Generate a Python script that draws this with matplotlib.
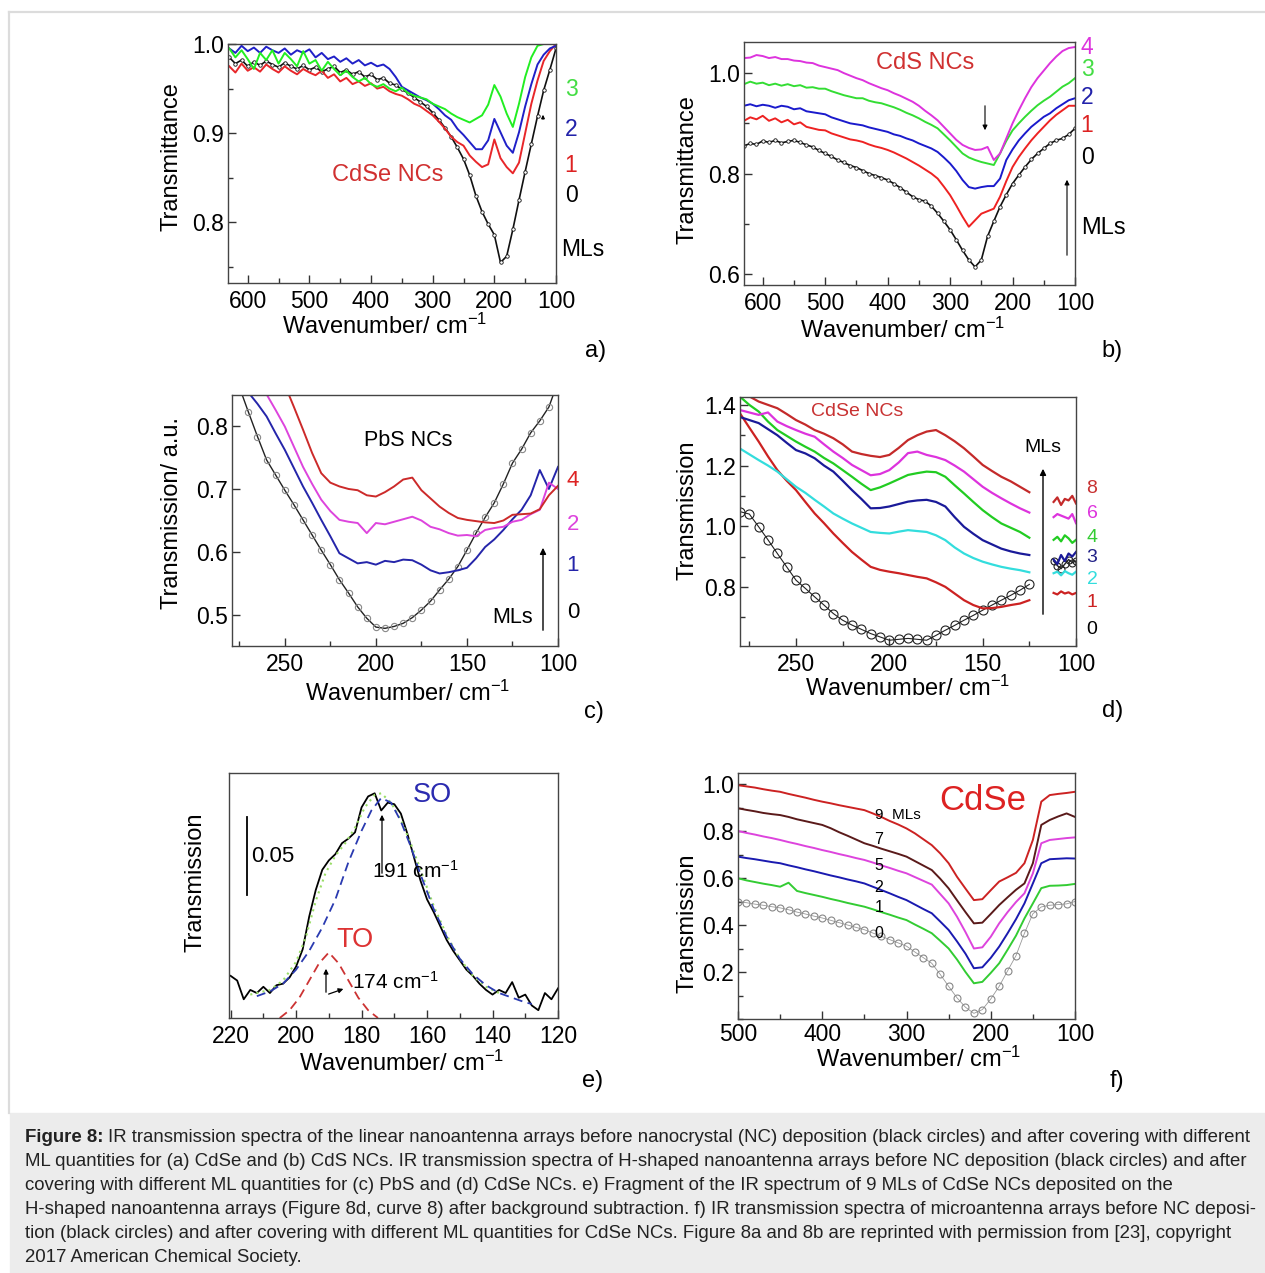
import matplotlib
matplotlib.use("Agg")
import matplotlib.pyplot as plt
from matplotlib.ticker import MultipleLocator, FixedLocator
from matplotlib.lines import Line2D
from matplotlib.patches import Rectangle

W, H = 1265, 1273
plt.rcParams["font.family"] = ["Liberation Sans", "DejaVu Sans"]
plt.rcParams["mathtext.fontset"] = "custom"
plt.rcParams["mathtext.rm"] = "Liberation Sans"
plt.rcParams["mathtext.it"] = "Liberation Sans:italic"
plt.rcParams["mathtext.bf"] = "Liberation Sans:bold"

XLAB = "Wavenumber/ cm$^{-1}$"

# ---- a) CdSe NCs on linear nanoantennas
a_x = list(range(630, 99, -10))
a_ml0 = [.985, .978, .982, .975, .980, .976, .981, .977, .974, .979,
         .975, .972, .976, .971, .974, .969, .972, .975, .968, .971,
         .966, .969, .963, .966, .960, .962, .956, .954, .949, .945,
         .940, .935, .930, .923, .915, .906, .896, .884, .871, .853,
         .830, .812, .798, .786, .755, .762, .792, .825, .857, .888,
         .919, .948, .971, .995]
a_ml1 = [.975, .968, .978, .970, .974, .969, .977, .972, .968, .975,
         .970, .966, .972, .968, .965, .970, .962, .966, .958, .962,
         .955, .958, .953, .956, .950, .952, .947, .944, .942, .938,
         .933, .930, .925, .920, .913, .905, .896, .890, .886, .875,
         .868, .862, .865, .893, .872, .862, .855, .867, .900, .933,
         .959, .981, .992, 1.0]
a_ml2 = [.995, .990, .998, .992, .996, .990, .997, .993, .990, .995,
         .988, .993, .990, .994, .985, .990, .983, .986, .980, .984,
         .978, .982, .976, .979, .975, .977, .972, .963, .952, .948,
         .944, .940, .937, .933, .927, .920, .915, .905, .898, .890,
         .882, .882, .892, .916, .901, .886, .878, .901, .930, .955,
         .977, .988, .995, .998]
a_ml3 = [.995, .985, .993, .983, .972, .990, .982, .993, .978, .990,
         .983, .975, .992, .978, .982, .970, .980, .972, .965, .970,
         .963, .958, .962, .955, .952, .955, .950, .947, .951, .945,
         .942, .940, .938, .933, .930, .927, .922, .918, .915, .912,
         .916, .920, .932, .954, .941, .922, .907, .933, .963, .985,
         .998, 1.0, 1.0, 1.0]

# ---- b) CdS NCs on linear nanoantennas
b_x = list(range(630, 99, -10))
b_ml0 = [.855, .860, .858, .865, .862, .866, .861, .864, .866, .862,
         .857, .853, .846, .840, .834, .827, .822, .816, .812, .806,
         .800, .796, .792, .787, .780, .772, .763, .754, .748, .745,
         .735, .721, .705, .688, .668, .647, .628, .614, .628, .675,
         .705, .734, .758, .780, .797, .813, .828, .840, .850, .860,
         .866, .870, .878, .890]
b_ml1 = [.905, .912, .908, .915, .905, .910, .902, .907, .898, .902,
         .893, .890, .887, .886, .880, .876, .872, .868, .866, .863,
         .858, .854, .851, .847, .842, .836, .830, .823, .816, .808,
         .800, .790, .774, .757, .736, .714, .694, .707, .720, .725,
         .730, .754, .785, .813, .833, .850, .866, .880, .893, .906,
         .917, .926, .935, .935]
b_ml2 = [.935, .938, .934, .937, .935, .931, .935, .933, .928, .930,
         .924, .922, .920, .918, .912, .908, .904, .900, .898, .896,
         .892, .889, .886, .883, .878, .875, .870, .866, .860, .855,
         .850, .843, .832, .820, .805, .787, .773, .770, .773, .775,
         .775, .790, .827, .848, .866, .880, .893, .903, .913, .920,
         .930, .938, .946, .950]
b_ml3 = [.978, .983, .979, .981, .976, .979, .975, .978, .974, .976,
         .971, .972, .969, .969, .964, .960, .956, .953, .950, .950,
         .945, .942, .940, .936, .932, .927, .921, .916, .910, .903,
         .897, .890, .878, .866, .853, .840, .832, .827, .823, .820,
         .817, .840, .865, .886, .900, .913, .925, .936, .945, .953,
         .963, .973, .980, .990]
b_ml4 = [1.030, 1.031, 1.036, 1.034, 1.030, 1.032, 1.028, 1.028, 1.025, 1.024,
         1.021, 1.020, 1.015, 1.012, 1.009, 1.006, 1.000, .995, .990, .986,
         .980, .975, .970, .966, .960, .955, .949, .943, .935, .925,
         .916, .906, .893, .880, .867, .857, .851, .847, .848, .853,
         .827, .840, .870, .900, .926, .950, .972, .990, 1.005, 1.020,
         1.033, 1.044, 1.050, 1.052]

# ---- c) PbS NCs on H-shaped nanoantennas
c_x = list(range(280, 99, -5))
c_ml0 = [.900, .862, .822, .783, .746, .722, .698, .675, .651, .627,
         .603, .580, .556, .535, .513, .495, .481, .479, .482, .487,
         .496, .508, .522, .540, .557, .577, .603, .630, .655, .678,
         .708, .741, .763, .789, .808, .830, .870]
c_ml1 = [.930, .890, .853, .835, .815, .788, .762, .733, .704, .678,
         .651, .625, .598, .590, .582, .584, .580, .586, .584, .588,
         .587, .580, .571, .566, .568, .571, .575, .590, .608, .620,
         .635, .652, .667, .690, .730, .700, .735]
c_ml2 = [1.00, .950, .910, .875, .850, .825, .799, .767, .735, .708,
         .683, .665, .651, .648, .646, .630, .646, .644, .648, .652,
         .656, .650, .640, .636, .630, .626, .627, .625, .635, .638,
         .640, .648, .651, .660, .667, .710, .700]
c_ml4 = [1.10, 1.05, 1.00, .960, .920, .890, .865, .830, .794, .757,
         .725, .710, .704, .700, .698, .690, .688, .695, .704, .715,
         .718, .698, .685, .672, .662, .654, .651, .649, .647, .646,
         .650, .659, .660, .661, .668, .690, .705]

# ---- d) CdSe NCs on H-shaped nanoantennas
d_x = list(range(280, 124, -5))
d_xs = [112, 110, 108, 106, 104, 102, 100]
d_ml8 = [1.440, 1.428, 1.411, 1.400, 1.389, 1.370, 1.350, 1.335, 1.317, 1.305,
         1.290, 1.270, 1.246, 1.238, 1.232, 1.228, 1.235, 1.258, 1.284, 1.300,
         1.312, 1.317, 1.300, 1.280, 1.257, 1.230, 1.202, 1.182, 1.163, 1.148,
         1.130, 1.112]
d_ml6 = [1.383, 1.375, 1.367, 1.375, 1.345, 1.330, 1.317, 1.305, 1.295, 1.270,
         1.246, 1.225, 1.202, 1.185, 1.168, 1.172, 1.185, 1.210, 1.241, 1.246,
         1.235, 1.228, 1.218, 1.200, 1.180, 1.155, 1.130, 1.110, 1.092, 1.075,
         1.059, 1.045]
d_ml4 = [1.427, 1.400, 1.378, 1.345, 1.317, 1.298, 1.279, 1.262, 1.246, 1.225,
         1.207, 1.185, 1.163, 1.140, 1.119, 1.128, 1.141, 1.155, 1.169, 1.175,
         1.180, 1.178, 1.163, 1.135, 1.108, 1.080, 1.053, 1.030, 1.009, .995,
         .981, .962]
d_ml3 = [1.360, 1.350, 1.340, 1.320, 1.300, 1.275, 1.251, 1.240, 1.224, 1.200,
         1.180, 1.150, 1.119, 1.090, 1.059, 1.060, 1.065, 1.073, 1.081, 1.085,
         1.087, 1.080, 1.065, 1.030, .998, .975, .954, .940, .926, .917,
         .910, .905]
d_ml2 = [1.256, 1.237, 1.218, 1.200, 1.180, 1.155, 1.130, 1.110, 1.087, 1.065,
         1.042, 1.025, 1.009, .995, .981, .978, .976, .982, .987, .984,
         .981, .970, .954, .930, .910, .895, .883, .874, .866, .860,
         .855, .848]
d_ml1 = [1.372, 1.325, 1.279, 1.230, 1.185, 1.150, 1.119, 1.080, 1.042, 1.010,
         .976, .945, .915, .890, .866, .856, .850, .845, .839, .833,
         .828, .815, .800, .778, .756, .740, .729, .730, .734, .740,
         .745, .756]
d_ml0 = [1.048, 1.040, .998, .955, .910, .866, .822, .795, .767, .740,
         .712, .690, .674, .660, .646, .635, .624, .627, .630, .627,
         .624, .640, .657, .673, .690, .706, .723, .740, .756, .772,
         .789, .808]
d_s8 = [1.080, 1.095, 1.070, 1.090, 1.085, 1.100, 1.075]
d_s6 = [1.030, 1.040, 1.035, 1.030, 1.025, 1.040, 1.010]
d_s4 = [.955, .965, .950, .970, .960, .945, .955]
d_s3 = [.890, .875, .905, .885, .910, .900, .915]
d_s2 = [.845, .850, .838, .852, .845, .840, .850]
d_s1 = [.780, .775, .785, .778, .782, .775, .780]
d_s0 = [.885, .870, .860, .875, .890, .880, .885]

# ---- e) fragment of 9 ML spectrum, after background subtraction
e_x = list(range(220, 119, -2))
e_data = [.027, .024, .012, .018, .016, .020, .016, .021, .022, .026,
          .033, .044, .065, .082, .095, .101, .105, .112, .115, .119,
          .135, .142, .144, .133, .138, .137, .131, .118, .103, .088,
          .076, .068, .059, .050, .043, .037, .031, .027, .022, .018,
          .015, .018, .016, .023, .013, .015, .008, .005, .016, .012,
          .019]
e_so_x = [212, 208, 204, 200, 196, 192, 188, 184, 180, 177, 174, 171,
          168, 165, 162, 158, 154, 150, 146, 142, 138, 134, 130, 128]
e_so = [.014, .017, .022, .031, .043, .058, .076, .100, .120, .133, .141, .138,
        .126, .110, .092, .070, .052, .038, .028, .021, .016, .013, .010, .009]
e_to_x = [205, 202, 199, 196, 193, 190, 187, 184, 181, 178, 175]
e_to = [.0, .005, .013, .024, .035, .042, .035, .024, .013, .005, .0]
e_fit_x = [214, 208, 204, 200, 197, 194, 191, 188, 185, 182, 179, 176,
           174, 171, 168, 165, 162, 158, 154, 150, 146, 142, 138]
e_fit = [.015, .018, .024, .036, .052, .075, .093, .104, .112, .122, .135, .143,
         .144, .138, .127, .112, .095, .072, .053, .038, .027, .020, .016]
e_bar_x = 215
e_bar = [.079, .129]

# ---- f) CdSe NCs on microantennas
f_x = list(range(500, 99, -10))
f_ml9 = [.995, .990, .985, .978, .972, .967, .958, .950, .942, .933,
         .925, .918, .910, .903, .896, .889, .875, .860, .843, .828,
         .811, .790, .765, .740, .705, .663, .605, .555, .506, .510,
         .548, .585, .603, .622, .663, .762, .925, .953, .958, .962,
         .967]
f_ml7 = [.897, .890, .884, .877, .872, .868, .860, .850, .842, .834,
         .826, .812, .795, .780, .764, .748, .737, .725, .714, .703,
         .691, .672, .653, .634, .597, .556, .505, .455, .407, .410,
         .447, .485, .518, .550, .577, .663, .826, .847, .862, .875,
         .860]
f_ml5 = [.800, .792, .785, .777, .770, .762, .753, .745, .736, .728,
         .719, .711, .702, .694, .685, .677, .666, .654, .643, .631,
         .620, .604, .588, .572, .532, .492, .435, .370, .300, .305,
         .350, .407, .455, .498, .535, .620, .748, .762, .766, .770,
         .773]
f_ml2 = [.691, .685, .680, .674, .668, .663, .654, .646, .637, .629,
         .620, .611, .603, .594, .586, .577, .563, .549, .535, .520,
         .506, .487, .468, .450, .415, .379, .330, .278, .216, .220,
         .260, .308, .365, .425, .492, .577, .663, .680, .682, .684,
         .683]
f_ml1 = [.599, .590, .583, .576, .570, .563, .580, .545, .536, .528,
         .520, .511, .503, .494, .486, .478, .467, .455, .444, .432,
         .421, .402, .384, .365, .333, .300, .253, .200, .152, .158,
         .196, .237, .295, .355, .428, .492, .557, .567, .568, .570,
         .575]
f_ml0 = [.500, .495, .489, .484, .478, .473, .465, .455, .447, .438,
         .430, .420, .410, .400, .390, .380, .366, .352, .338, .324,
         .310, .285, .261, .237, .190, .139, .090, .050, .024, .040,
         .085, .139, .205, .270, .365, .448, .477, .484, .487, .490,
         .500]
f_yticks = [0.2, 0.4, 0.6, 0.8, 1.0]

CAPTION = [
    "IR transmission spectra of the linear nanoantenna arrays before nanocrystal (NC) deposition (black circles) and after covering with different",
    "ML quantities for (a) CdSe and (b) CdS NCs. IR transmission spectra of H-shaped nanoantenna arrays before NC deposition (black circles) and after",
    "covering with different ML quantities for (c) PbS and (d) CdSe NCs. e) Fragment of the IR spectrum of 9 MLs of CdSe NCs deposited on the",
    "H-shaped nanoantenna arrays (Figure 8d, curve 8) after background subtraction. f) IR transmission spectra of microantenna arrays before NC deposi-",
    "tion (black circles) and after covering with different ML quantities for CdSe NCs. Figure 8a and 8b are reprinted with permission from [23], copyright",
    "2017 American Chemical Society.",
]


def box(l, t, r, b):
    return [l / W, 1 - b / H, (r - l) / W, (b - t) / H]


def at(x, y):
    return (x / W, 1 - y / H)


def txt(x, y, s, size, color="black", **kw):
    fig.text(x / W, 1 - y / H, s, fontsize=size, color=color,
             ha=kw.pop("ha", "center"), va=kw.pop("va", "center"), **kw)


def arrow(x1, y1, x2, y2, lw=1.0, ms=9):
    fig.add_artist(matplotlib.patches.FancyArrowPatch(
        at(x1, y1), at(x2, y2), transform=fig.transFigure,
        arrowstyle="-|>", mutation_scale=ms, color="black", lw=lw))


def style(ax, xlim, ylim, xmaj, xmin, ymaj=None, ymin=None):
    ax.set_xlim(*xlim)
    ax.set_ylim(*ylim)
    ax.xaxis.set_major_locator(MultipleLocator(xmaj))
    ax.xaxis.set_minor_locator(MultipleLocator(xmin))
    if ymaj:
        ax.yaxis.set_major_locator(MultipleLocator(ymaj))
        ax.yaxis.set_minor_locator(MultipleLocator(ymin))
    else:
        ax.set_yticks([])
    ax.tick_params(which="both", direction="in", labelsize=16.5,
                   color="#333333", top=False, right=False)
    ax.tick_params(which="major", length=6, width=1, pad=5)
    ax.tick_params(which="minor", length=3.5, width=1)
    ax.tick_params(axis="y", pad=3)
    for s in ax.spines.values():
        s.set_color("#444444")
        s.set_linewidth(1)


fig = plt.figure(figsize=(W / 100, H / 100), dpi=100)

# frame and caption background
fig.add_artist(Line2D([9 / W, 1], [1 - 12 / H, 1 - 12 / H], color="#dcdcdc", lw=1.6,
                      transform=fig.transFigure))
fig.add_artist(Line2D([9 / W, 9 / W], [1 - 12 / H, 1 - 1113 / H], color="#dcdcdc", lw=1.6,
                      transform=fig.transFigure))
fig.add_artist(Rectangle((10 / W, 0), 1 - 10 / W, 160 / H, color="#ececec",
                         transform=fig.transFigure, zorder=0))

LW = 1.4

# a)
axa = fig.add_axes(box(228, 44, 556, 283))
axa.plot(a_x, a_ml0, color="#111111", lw=1.2, marker="o", ms=2.5, mfc="white", mec="#111111", mew=0.6)
axa.plot(a_x, a_ml1, color="#e8262a", lw=LW)
axa.plot(a_x, a_ml2, color="#2020c8", lw=LW)
axa.plot(a_x, a_ml3, color="#22ee22", lw=LW)
style(axa, (632, 100), (0.732, 1.0), 100, 50, 0.1, 0.05)
txt(172, 157, "Transmittance", 17, rotation=90)
txt(385, 326, XLAB, 17)
txt(388, 175, "CdSe NCs", 17, "#d03030")
txt(571, 90, "3", 16.5, "#44dd44")
txt(571, 130, "2", 16.5, "#2222aa")
txt(571, 165, "1", 16.5, "#dd2222")
txt(571, 196, "0", 16.5)
txt(583, 250, "MLs", 16.5)
arrow(543, 122, 543, 112, lw=0.8, ms=5)
txt(596, 351, "a)", 17)

# b)
axb = fig.add_axes(box(744, 42, 1075, 285))
axb.plot(b_x, b_ml0, color="#111111", lw=1.2, marker="o", ms=2.5, mfc="white", mec="#111111", mew=0.6)
axb.plot(b_x, b_ml1, color="#ee2222", lw=LW)
axb.plot(b_x, b_ml2, color="#1a1acc", lw=LW)
axb.plot(b_x, b_ml3, color="#33dd33", lw=LW)
axb.plot(b_x, b_ml4, color="#dd33dd", lw=LW)
style(axb, (630, 100), (0.578, 1.062), 100, 50, 0.2, 0.1)
txt(687, 170, "Transmittance", 17, rotation=90)
txt(903, 330, XLAB, 17)
txt(925, 63, "CdS NCs", 17, "#d03030")
arrow(985, 103, 985, 133, lw=0.8, ms=7)
arrow(1067, 258, 1067, 177, lw=0.8, ms=7)
txt(1087, 47, "4", 16.5, "#dd33dd")
txt(1087, 70, "3", 16.5, "#44dd44")
txt(1087, 97, "2", 16.5, "#2222aa")
txt(1087, 126, "1", 16.5, "#dd2222")
txt(1087, 157, "0", 16.5)
txt(1103, 228, "MLs", 17)
txt(1112, 351, "b)", 17)

# c)
axc = fig.add_axes(box(232, 395, 558, 646))
axc.plot(c_x, c_ml0, color="#222222", lw=1.0, marker="o", ms=4.5, mfc="none", mec="#888888", mew=0.8)
axc.plot(c_x, c_ml1, color="#2525aa", lw=LW)
axc.plot(c_x, c_ml2, color="#dd44dd", lw=LW)
axc.plot(c_x, c_ml4, color="#cc2a2a", lw=LW)
style(axc, (279, 100), (0.451, 0.849), 50, 25, 0.1, 0.1)
txt(172, 513, "Transmission/ a.u.", 17, rotation=90)
txt(408, 693, XLAB, 17)
txt(408, 440, "PbS NCs", 15.5)
txt(573, 480, "4", 16, "#dd2222")
txt(573, 525, "2", 16, "#dd44dd")
txt(573, 565, "1", 16, "#2525aa")
txt(573, 613, "0", 16)
txt(513, 617, "MLs", 15.5)
arrow(543, 633, 543, 545, lw=1.0, ms=9)
txt(594, 712, "c)", 17)

# d)
axd = fig.add_axes(box(740, 397, 1076, 646))
axd.plot(d_x, d_ml0, color="#222222", lw=0.8, marker="o", ms=6.5, mfc="none", mec="#222222", mew=0.8)
axd.plot(d_xs, d_s0, color="#222222", lw=1.0, marker="o", ms=5, mfc="none", mec="#222222", mew=0.8)
d_series = [(d_ml1, d_s1, "#cc2222"), (d_ml2, d_s2, "#33dddd"), (d_ml3, d_s3, "#1a1a99"),
            (d_ml4, d_s4, "#22cc22"), (d_ml6, d_s6, "#dd33dd"), (d_ml8, d_s8, "#c42a2a")]
for main, stub, col in d_series:
    axd.plot(d_x, main, color=col, lw=1.6)
    axd.plot(d_xs, stub, color=col, lw=1.6)
style(axd, (280, 100), (0.605, 1.426), 50, 25, 0.2, 0.1)
txt(687, 510, "Transmission", 17, rotation=90)
txt(908, 688, XLAB, 17)
txt(857, 412, "CdSe NCs", 14, "#c83232")
txt(1043, 448, "MLs", 14)
arrow(1043, 617, 1043, 466, lw=1.0, ms=9)
for lab, yy, col in [("8", 488, "#c83232"), ("6", 513, "#dd33dd"), ("4", 537, "#33cc33"),
                     ("3", 558, "#222288"), ("2", 580, "#33dddd"), ("1", 603, "#cc2222"),
                     ("0", 630, "black")]:
    txt(1092, yy, lab, 14, col)
txt(1113, 711, "d)", 17)

# e)
axe = fig.add_axes(box(229, 773, 558, 1018))
axe.plot(e_x, e_data, color="black", lw=1.3)
axe.plot(e_fit_x, e_fit, color="#99dd66", lw=1.5, ls=(0, (1, 2)))
axe.plot(e_so_x, e_so, color="#2a3ab0", lw=1.3, ls=(0, (5, 3)))
axe.plot(e_to_x, e_to, color="#cc3333", lw=1.3, ls=(0, (5, 3)))
axe.plot([e_bar_x, e_bar_x], e_bar, color="black", lw=1.3)
style(axe, (220.5, 120), (0, 0.157), 20, 10)
txt(195, 882, "Transmission", 17, rotation=90)
txt(402, 1063, XLAB, 17)
txt(273, 857, "0.05", 16)
txt(432, 795, "SO", 19.5, "#2b2bb0")
txt(355, 940, "TO", 19.5, "#dd3333")
txt(415, 871, "191 cm$^{-1}$", 15)
txt(395, 982, "174 cm$^{-1}$", 15)
arrow(382, 876, 382, 812, lw=0.9, ms=7)
arrow(326, 995, 326, 966, lw=0.9, ms=7)
arrow(326, 995, 346, 988, lw=0.9, ms=7)
txt(593, 1081, "e)", 17)

# f)
axf = fig.add_axes(box(738, 773, 1075, 1019))
axf.plot(f_x, f_ml0, color="#999999", lw=0.6, marker="o", ms=5, mfc="none", mec="#888888", mew=0.8)
axf.plot(f_x, f_ml1, color="#33cc33", lw=LW)
axf.plot(f_x, f_ml2, color="#1a1ab0", lw=LW)
axf.plot(f_x, f_ml5, color="#dd44dd", lw=LW)
axf.plot(f_x, f_ml7, color="#5a1a1a", lw=LW)
axf.plot(f_x, f_ml9, color="#cc2222", lw=LW)
style(axf, (500, 100), (0.0, 1.047), 100, 50, 0.2, 0.1)
axf.yaxis.set_major_locator(FixedLocator(f_yticks))
axf.tick_params(axis="x", pad=3)
txt(687, 923, "Transmission", 17, rotation=90)
txt(919, 1059, XLAB, 17)
txt(983, 800, "CdSe", 25, "#dd2222")
txt(875, 815, "9  MLs", 11, ha="left")
for lab, yy in [("7", 840), ("5", 865), ("2", 887), ("1", 908), ("0", 933)]:
    txt(879, yy, lab, 11.5)
txt(1117, 1081, "f)", 17)

# caption
CAP_FS = 13.4
renderer = fig.canvas.get_renderer()
ys = [1137, 1161, 1185, 1210, 1234, 1258]
head = fig.text(25 / W, 1 - ys[0] / H, "Figure 8:", fontsize=CAP_FS, fontweight="bold",
                va="center", ha="left", color="#222222")
hx = head.get_window_extent(renderer).x1
fig.text((hx + 4) / W, 1 - ys[0] / H, CAPTION[0], fontsize=CAP_FS, va="center",
         ha="left", color="#222222")
for line, yy in zip(CAPTION[1:], ys[1:]):
    fig.text(25 / W, 1 - yy / H, line, fontsize=CAP_FS, va="center", ha="left", color="#222222")

fig.savefig("out.png", dpi=100)
